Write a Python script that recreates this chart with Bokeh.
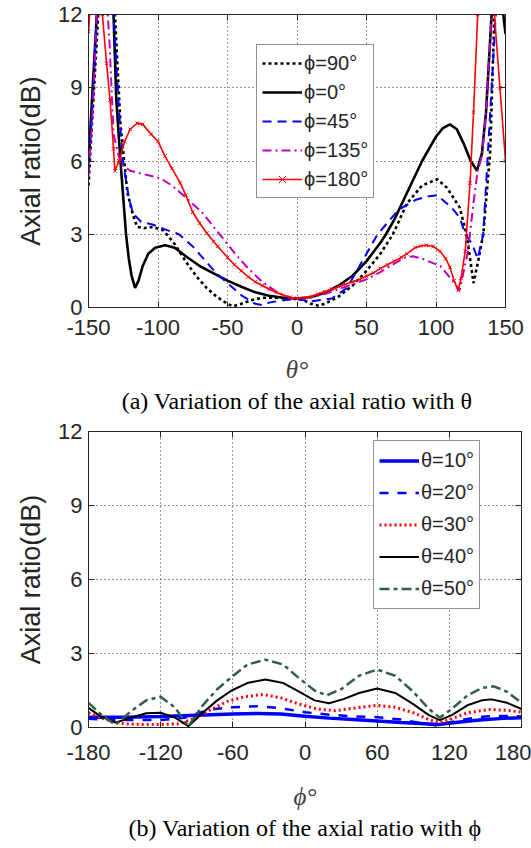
from bokeh.plotting import figure
from bokeh.models import Range1d, FixedTicker, Title, LinearAxis
from bokeh.layouts import column
from bokeh.embed import file_html
from bokeh.resources import INLINE

# ---------------- (a) axial ratio vs theta ----------------
x_phi90 = [-150, -147, -143, -139, -134, -131, -127, -122, -118, -115, -110, -103.5, -96, -88, -79, -72, -65, -58,
           -50, -46, -40, -33, -25, -15, -5, 0, 5, 10, 15, 20, 30, 40, 50, 60, 69, 79, 90, 101, 108, 117, 122, 125,
           127, 130, 134, 139, 142, 145, 150]
y_phi90 = [5.0, 8.0, 12.0, 15.0, 14.0, 12.0, 7.5, 4.7, 3.8, 3.3, 3.25, 3.3, 3.15, 2.6, 1.8, 1.25, 0.8, 0.45,
           0.15, 0.05, 0.15, 0.3, 0.4, 0.4, 0.37, 0.35, 0.3, 0.15, 0.08, 0.15, 0.45, 0.9, 1.5, 2.2, 3.0, 4.25, 5.0,
           5.25, 4.9, 4.1, 3.0, 1.8, 1.0, 1.8, 3.0, 6.4, 12.0, 15.0, 17.0]

x_phi0 = [-150, -147, -144, -140, -135, -132, -130, -127, -125, -123, -121, -119, -116.5, -114, -111, -107, -102,
          -95, -88, -80, -70, -60, -50, -40, -30, -20, -10, 0, 10, 20, 30, 40, 50, 60, 64, 70, 80, 90, 100, 105,
          110, 115, 120, 125, 129.5, 133, 136, 140, 143, 146, 148, 150]
y_phi0 = [5.9, 9.0, 12.0, 15.0, 14.0, 12.0, 8.5, 6.0, 4.5, 3.0, 2.0, 1.3, 0.8, 1.1, 1.7, 2.2, 2.45,
          2.55, 2.45, 2.1, 1.7, 1.4, 1.1, 0.85, 0.62, 0.48, 0.4, 0.37, 0.42, 0.6, 0.9, 1.3, 1.9, 2.65, 3.0, 3.6,
          4.8, 6.0, 7.0, 7.35, 7.5, 7.3, 6.7, 6.0, 5.6, 6.3, 8.0, 12.0, 15.0, 14.0, 12.2, 11.2]

x_phi45 = [-150, -147, -144, -140, -135, -132, -128, -125, -121, -118, -112, -104, -95, -85, -75, -65, -58, -50,
           -40, -30, -25, -20, -10, 0, 10, 25, 36, 49, 58, 73, 85, 94, 101, 111, 117, 121, 126, 130, 134, 138,
           143, 146, 150]
y_phi45 = [5.5, 8.5, 12.0, 15.0, 14.0, 12.0, 8.0, 5.9, 4.5, 3.85, 3.5, 3.4, 3.2, 3.0, 2.5, 1.85, 1.4, 1.0,
           0.5, 0.15, 0.1, 0.2, 0.3, 0.35, 0.25, 0.37, 0.8, 2.1, 3.0, 4.0, 4.4, 4.55, 4.6, 4.1, 3.7, 3.0, 2.6,
           2.0, 3.0, 7.0, 12.0, 15.0, 17.0]

x_phi135 = [-150, -147, -144, -141, -138, -135, -132, -127, -120, -113, -98.5, -90, -80, -67.5, -60, -50, -43,
            -35, -25, -15, -5, 0, 10, 20, 30, 40, 50, 60, 70, 78, 83.5, 90, 103, 112, 117, 123, 127, 130, 133,
            136, 140, 144, 150]
y_phi135 = [5.4, 8.0, 12.0, 14.0, 13.5, 11.0, 7.1, 5.9, 5.6, 5.5, 5.3, 5.0, 4.5, 3.85, 3.3, 2.6, 2.1,
            1.6, 1.05, 0.65, 0.4, 0.37, 0.42, 0.55, 0.75, 0.95, 1.15, 1.45, 1.8, 2.05, 2.1, 2.0, 1.7, 1.1, 0.7,
            2.3, 4.3, 5.6, 6.2, 8.0, 12.0, 15.0, 17.0]

x_phi180 = [-150, -148, -145, -142, -140, -137, -134.5, -132, -131, -128, -124, -120, -115, -111, -105, -100,
            -95, -90, -84, -80, -75, -70, -65, -60, -57, -50, -45, -40, -35, -30, -25, -20, -15, -10, -5, 0, 5, 10,
            15, 20, 25, 30, 35, 40, 45, 50, 55, 60, 65, 70, 75, 79, 85, 89, 93, 98, 103, 107, 110, 113, 116,
            118, 121, 124.5, 127, 130, 133, 136, 139, 142, 146, 150]
y_phi180 = [11.3, 13.0, 15.0, 13.5, 12.0, 10.0, 8.5, 6.5, 5.6, 6.0, 6.8, 7.3, 7.55, 7.5, 7.1, 6.8,
            6.2, 5.7, 5.1, 4.6, 3.9, 3.45, 3.05, 2.7, 2.5, 2.05, 1.75, 1.5, 1.25, 1.05, 0.9, 0.75, 0.62, 0.5, 0.42,
            0.37, 0.4, 0.45, 0.55, 0.65, 0.75, 0.85, 0.95, 1.05, 1.15, 1.28, 1.42, 1.6, 1.75, 1.9, 2.05, 2.2, 2.45,
            2.52, 2.55, 2.5, 2.3, 2.0, 1.65, 1.1, 0.7, 1.2, 2.3, 5.1, 8.0, 12.0, 15.0, 16.0, 15.0, 12.0, 9.0, 6.0]

# ---------------- (b) axial ratio vs phi ----------------
x_t10 = [-180, -150, -120, -90, -60, -40, -20, 0, 20, 40, 60, 80, 100, 111, 125, 145, 165, 180]
y_t10 = [0.42, 0.42, 0.45, 0.5, 0.55, 0.57, 0.55, 0.46, 0.38, 0.32, 0.26, 0.2, 0.15, 0.12, 0.2, 0.3, 0.37, 0.4]

x_t20 = [-180, -150, -120, -100, -88, -75, -60, -40, -20, 0, 20, 40, 60, 80, 100, 110, 120, 135, 150, 165, 180]
y_t20 = [0.35, 0.3, 0.3, 0.4, 0.6, 0.75, 0.82, 0.86, 0.78, 0.62, 0.52, 0.45, 0.42, 0.32, 0.15, 0.08, 0.2,
         0.35, 0.45, 0.47, 0.45]

x_t30 = [-180, -170, -160, -150, -135, -120, -105, -90, -78, -65, -50, -35, -20, -5, 10, 25, 40, 60, 75, 90,
         103, 112, 122, 135, 153, 168, 180]
y_t30 = [0.6, 0.4, 0.25, 0.15, 0.12, 0.12, 0.15, 0.4, 0.73, 1.05, 1.25, 1.34, 1.2, 0.95, 0.75, 0.68, 0.78,
         0.9, 0.82, 0.6, 0.32, 0.2, 0.35, 0.6, 0.73, 0.7, 0.62]

x_t40 = [-180, -170, -157, -145, -132, -120, -108, -97, -85, -73, -61, -48, -33, -18, -5, 8, 20, 32, 45, 60,
         75, 90, 103, 112, 122, 135, 147, 155, 168, 180]
y_t40 = [0.8, 0.45, 0.2, 0.4, 0.58, 0.6, 0.4, 0.05, 0.6, 1.1, 1.5, 1.8, 1.95, 1.8, 1.45, 1.1, 0.98, 1.15,
         1.4, 1.58, 1.4, 0.95, 0.5, 0.3, 0.5, 0.9, 1.1, 1.14, 1.0, 0.75]

x_t50 = [-180, -170, -157.5, -145, -132, -120, -108, -97, -85, -73, -61, -48, -33, -18, -5, 8, 18, 30, 45, 60,
         75, 90, 103, 112, 122, 135, 147, 157, 168, 180]
y_t50 = [1.0, 0.55, 0.1, 0.65, 1.1, 1.25, 0.8, 0.05, 0.9, 1.55, 2.05, 2.55, 2.75, 2.55, 2.0, 1.5, 1.3, 1.55,
         2.1, 2.35, 2.1, 1.45, 0.75, 0.4, 0.75, 1.3, 1.6, 1.67, 1.45, 1.0]

y_ticks = [0, 3, 6, 9, 12]
xa_ticks = [-150, -100, -50, 0, 50, 100, 150]
xb_ticks = [-180, -120, -60, 0, 60, 120, 180]

TXT = "#262626"


def style(p, xticks, tick_standoff, label_standoff):
    p.outline_line_color = TXT
    p.outline_line_width = 1
    p.background_fill_color = "white"
    p.border_fill_color = "white"
    for ax in (p.xaxis[0], p.yaxis[0]):
        ax.major_label_text_font = "Liberation Sans"
        ax.major_label_text_font_size = "22px"
        ax.major_label_text_color = TXT
        ax.major_tick_in = 6
        ax.major_tick_out = 0
        ax.minor_tick_line_color = None
        ax.axis_line_color = TXT
        ax.major_tick_line_color = TXT
        ax.major_label_standoff = 6
    p.xaxis[0].ticker = FixedTicker(ticks=xticks)
    p.xaxis[0].major_label_overrides = {t: str(t) for t in xticks}
    p.xaxis[0].major_label_standoff = tick_standoff
    p.yaxis[0].ticker = FixedTicker(ticks=y_ticks)
    p.yaxis[0].major_label_overrides = {t: str(t) for t in y_ticks}
    p.yaxis[0].axis_label = "Axial ratio(dB)"
    p.yaxis[0].axis_label_text_font = "Liberation Sans"
    p.yaxis[0].axis_label_text_font_size = "27px"
    p.yaxis[0].axis_label_text_font_style = "normal"
    p.yaxis[0].axis_label_text_color = TXT
    p.yaxis[0].axis_label_standoff = 9
    p.xaxis[0].axis_label_text_font = "Liberation Serif"
    p.xaxis[0].axis_label_text_font_size = "25px"
    p.xaxis[0].axis_label_text_font_style = "italic"
    p.xaxis[0].axis_label_text_color = "#404040"
    p.xaxis[0].axis_label_standoff = label_standoff
    for g in (p.xgrid[0], p.ygrid[0]):
        g.grid_line_color = "black"
        g.grid_line_dash = "1 3"
        g.grid_line_width = 1
        g.grid_line_alpha = 0.8
    p.xgrid[0].ticker = FixedTicker(ticks=xticks)
    p.ygrid[0].ticker = FixedTicker(ticks=y_ticks)
    # box ticks on the top and right edges (no labels)
    for ticks, side in ((xticks, "above"), (y_ticks, "right")):
        ax = LinearAxis(ticker=FixedTicker(ticks=ticks), major_label_text_font_size="0px",
                        major_label_text_color=None, major_tick_in=6, major_tick_out=0,
                        minor_tick_line_color=None, axis_line_color=TXT, major_tick_line_color=TXT,
                        major_label_standoff=0)
        p.add_layout(ax, side)


def style_legend(p, loc, lh):
    lg = p.legend[0]
    lg.location = loc
    lg.label_text_font = "Liberation Sans"
    lg.label_text_font_size = "20px"
    lg.label_text_color = TXT
    lg.glyph_width = 40
    lg.glyph_height = lh
    lg.label_height = lh
    lg.label_standoff = 2
    lg.spacing = 3
    lg.padding = 5
    lg.margin = 0
    lg.border_line_color = TXT
    lg.border_line_width = 1.2
    lg.background_fill_color = "white"
    lg.background_fill_alpha = 1


# ---------- figure (a) ----------
p1 = figure(frame_width=417, frame_height=293, min_border_left=88, min_border_right=26, min_border_top=14,
            min_border_bottom=112, x_range=Range1d(-150, 150), y_range=Range1d(0, 12),
            output_backend="svg", toolbar_location=None)
p1.xaxis.axis_label = "θ°"
style(p1, xa_ticks, 12, 18)

p1.line(x_phi90, y_phi90, line_color="black", line_width=2.6, line_dash="3 3", legend_label="ϕ=90°")
p1.line(x_phi0, y_phi0, line_color="black", line_width=2.6, legend_label="ϕ=0°")
p1.line(x_phi45, y_phi45, line_color="#0000FF", line_width=2, line_dash="9 6", legend_label="ϕ=45°")
p1.line(x_phi135, y_phi135, line_color="#BF00BF", line_width=2, line_dash="9 4 2 4", legend_label="ϕ=135°")
p1.line(x_phi180, y_phi180, line_color="#FF0000", line_width=1.6, legend_label="ϕ=180°")
p1.scatter(x_phi180, y_phi180, marker="x", size=5, line_color="#FF0000", line_width=1, legend_label="ϕ=180°")
style_legend(p1, (168, 109), 26)
p1.add_layout(Title(text="(a) Variation of the axial ratio with θ", align="center", text_font="Liberation Serif",
                    text_font_size="24px", text_font_style="normal", text_color="black", standoff=0), "below")

# ---------- figure (b) ----------
p2 = figure(frame_width=433, frame_height=296, min_border_left=79, min_border_right=19, min_border_top=12,
            min_border_bottom=118, x_range=Range1d(-180, 180), y_range=Range1d(0, 12),
            output_backend="svg", toolbar_location=None)
p2.xaxis.axis_label = "ϕ°"
style(p2, xb_ticks, 17, 20)

p2.line(x_t10, y_t10, line_color="#0000FF", line_width=3.5, legend_label="θ=10°")
p2.line(x_t20, y_t20, line_color="#0000FF", line_width=2.5, line_dash="9 9", legend_label="θ=20°")
p2.line(x_t30, y_t30, line_color="#FF0000", line_width=3, line_dash="2 3", legend_label="θ=30°")
p2.line(x_t40, y_t40, line_color="black", line_width=2, legend_label="θ=40°")
p2.line(x_t50, y_t50, line_color="#2F5F45", line_width=2.5, line_dash="10 4 4 4", legend_label="θ=50°")
style_legend(p2, (285, 118), 29)
p2.add_layout(Title(text="(b) Variation of the axial ratio with ϕ", align="center", text_font="Liberation Serif",
                    text_font_size="24px", text_font_style="normal", text_color="black", standoff=0), "below")

layout = column(p1, p2, spacing=0)
open("out.html", "w").write(file_html(layout, INLINE))
